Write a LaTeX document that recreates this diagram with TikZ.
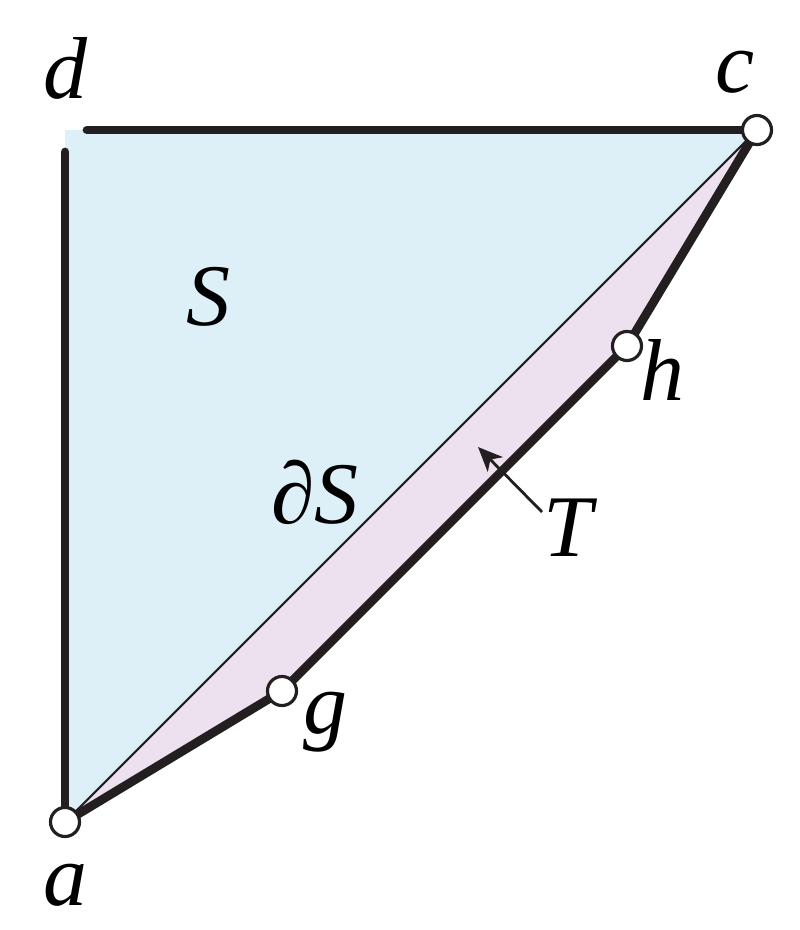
\documentclass[tikz,border=0pt]{standalone}
\usepackage{fontspec}
\setmainfont{Liberation Serif}
\usepackage{tikz}
\usetikzlibrary{arrows.meta}
\definecolor{skyfill}{RGB}{221,240,248}
\definecolor{pinkfill}{RGB}{237,224,239}
\definecolor{inkline}{RGB}{35,31,32}

\begin{document}
\begin{tikzpicture} [x=0.01cm, y=-0.01cm,
            vertex_style/.style={circle, draw=inkline, fill=white, line width=0.9pt, inner sep=0pt, minimum width=0.29cm},
            thick_style/.style={draw=inkline, line width=2.5pt, line cap=round, line join=round},
            label_style/.style={font=\fontsize{25}{29}\selectfont\itshape, inner sep=0pt}]
            \useasboundingbox (0,0) rectangle (800,930);
            \coordinate (a) at (65,822);
            \coordinate (d) at (65,130);
            \coordinate (c) at (757,130);
            \coordinate (g) at (282,691);
            \coordinate (h) at (627,346);
            \coordinate (dv) at (65,152);
            \coordinate (dh) at (87,130);
            \coordinate (tail) at (542,512);
            \coordinate (tip) at (478,447);
            \fill[skyfill] (a) -- (d) -- (c) -- cycle;
            \fill[pinkfill] (a) -- (g) -- (h) -- (c) -- cycle;
            \draw[inkline, line width=0.6pt] (a) -- (c);
            \draw[thick_style] (dv) -- (a);
            \draw[thick_style] (dh) -- (c);
            \draw[thick_style] (a) -- (g) -- (h) -- (c);
            \draw[inkline, line width=0.8pt, -{Stealth[length=7pt, width=6pt, inset=2pt]}] (tail) -- (tip);
            \node[vertex_style] (va) at (a) {};
            \node[vertex_style] (vc) at (c) {};
            \node[vertex_style] (vg) at (g) {};
            \node[vertex_style] (vh) at (h) {};
            \node[label_style] (ld) at (65,68) {d};
            \node[label_style] (lc) at (735,72) {c};
            \node[label_style] (la) at (65,885) {a};
            \node[label_style] (lg) at (325,722) {g};
            \node[label_style] (lh) at (662,370) {h};
            \node[label_style] (lS) at (208,297) {S};
            \node[label_style] (ldS) at (315,492) {∂S};
            \node[label_style] (lT) at (568,528) {T};
        \end{tikzpicture}
\end{document}
